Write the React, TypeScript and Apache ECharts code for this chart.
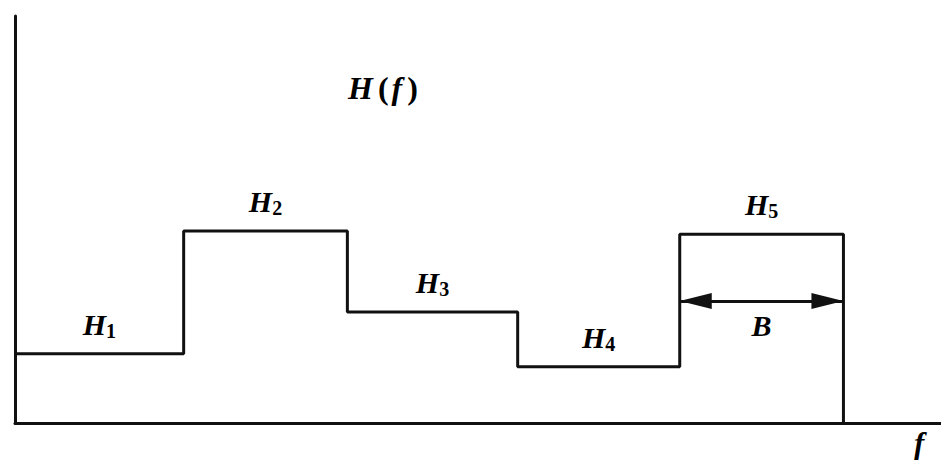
import React, { useEffect, useRef } from "react";
import * as echarts from "echarts";

// Band edges along f (arbitrary frequency units) and the level of H(f) in each band
const bandEdges = [0, 1.02, 2.01, 3.04, 4.02, 5.01];
const levels = [1.7, 4.72, 2.73, 1.38, 4.64];
const levelSubscripts = ["1", "2", "3", "4", "5"];
const arrowLevel = 3.0; // height of the bandwidth arrow B
const bandwidthLabel = "B";
const xMax = 5.6;
const yMax = 10;

const INK = "#000000";
const SERIF = '"Liberation Serif", "DejaVu Serif", serif';

export default function App() {
  const ref = useRef<HTMLDivElement>(null);
  useEffect(() => {
    if (!ref.current) return;
    const chart = echarts.init(ref.current, undefined, { renderer: "svg" });

    const stepData = bandEdges.map((x, i) => [x, i < levels.length ? levels[i] : 0]);
    const labelData = levels.map((h, i) => ({
      value: [(bandEdges[i] + bandEdges[i + 1]) / 2, h],
      sub: levelSubscripts[i],
    }));
    const last = levels.length - 1;

    const italicBold = {
      fontFamily: SERIF,
      fontStyle: "italic",
      fontWeight: "bold",
      color: INK,
    };

    chart.setOption({
      animation: false,
      backgroundColor: "#ffffff",
      grid: { left: 15, right: 0, top: 16, bottom: 37 },
      xAxis: {
        type: "value",
        min: 0,
        max: xMax,
        axisLine: { show: true, lineStyle: { color: "#111", width: 3 } },
        axisTick: { show: false },
        axisLabel: { show: false },
        splitLine: { show: false },
      },
      yAxis: {
        type: "value",
        min: 0,
        max: yMax,
        axisLine: { show: true, lineStyle: { color: "#111", width: 3 } },
        axisTick: { show: false },
        axisLabel: { show: false },
        splitLine: { show: false },
      },
      graphic: [
        {
          type: "text",
          x: 348,
          y: 72,
          style: {
            text: "{a|H}{b|(}{a|f}{b|)}",
            rich: {
              a: { fontFamily: SERIF, fontStyle: "italic", fontWeight: "bold", fontSize: 32, fill: INK, padding: [0, 2, 0, 0] },
              b: { fontFamily: SERIF, fontWeight: "bold", fontSize: 32, fill: INK, padding: [0, 3, 0, 3] },
            },
          },
        },
        {
          type: "text",
          x: 914,
          y: 428,
          style: {
            text: "f",
            font: `italic bold 31px ${SERIF}`,
            fill: INK,
          },
        },
      ],
      series: [
        {
          type: "line",
          step: "end",
          data: stepData,
          symbol: "none",
          lineStyle: { color: "#111", width: 3 },
          silent: true,
          markLine: {
            silent: true,
            animation: false,
            symbol: ["triangle", "triangle"],
            symbolSize: [16, 32],
            symbolOffset: [
              [0, 16],
              [0, 16],
            ],
            lineStyle: { color: "#111", width: 3, type: "solid" },
            itemStyle: { color: "#111" },
            label: {
              show: true,
              position: "insideMiddleBottom",
              distance: 10,
              formatter: bandwidthLabel,
              ...italicBold,
              fontSize: 30,
            },
            data: [
              [
                { coord: [bandEdges[last], arrowLevel] },
                { coord: [bandEdges[last + 1], arrowLevel] },
              ],
            ],
          },
        },
        {
          type: "scatter",
          data: labelData,
          symbolSize: 0,
          silent: true,
          itemStyle: { color: INK, opacity: 1 },
          label: {
            show: true,
            position: "top",
            distance: 13,
            color: INK,
            opacity: 1,
            formatter: (p: any) => `{h|H}{s|${p.data.sub}}`,
            rich: {
              h: { ...italicBold, fontSize: 30, lineHeight: 30 },
              s: { fontFamily: SERIF, fontWeight: "bold", fontSize: 20, color: INK, padding: [13, 0, 0, 0] },
            },
          },
        },
      ],
    });

    return () => chart.dispose();
  }, []);

  return <div ref={ref} style={{ width: 941, height: 460, position: "absolute", left: 0, top: 0 }} />;
}
